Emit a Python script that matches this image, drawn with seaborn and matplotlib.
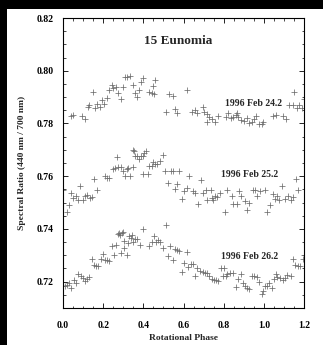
import matplotlib
matplotlib.use("Agg")
import matplotlib.pyplot as plt
from matplotlib.patches import Rectangle
from matplotlib.ticker import MultipleLocator, FormatStrFormatter
import seaborn as sns
import pandas as pd

# ---- data ----
phase_feb24 = [0.038, 0.052, 0.093, 0.110, 0.126, 0.131, 0.151, 0.159, 0.171, 0.184,
               0.193, 0.204, 0.218, 0.231, 0.242, 0.250, 0.264, 0.275, 0.287, 0.297,
               0.309, 0.320, 0.334, 0.347, 0.359, 0.367, 0.380, 0.387, 0.400, 0.430,
               0.442, 0.447, 0.453, 0.458, 0.513, 0.529, 0.546, 0.558, 0.569, 0.619,
               0.641, 0.657, 0.666, 0.696, 0.702, 0.716, 0.719, 0.728, 0.740, 0.757,
               0.773, 0.812, 0.823, 0.835, 0.848, 0.861, 0.868, 0.873, 0.885, 0.901,
               0.915, 0.928, 0.940, 0.951, 0.961, 0.977, 0.989, 0.997, 1.046, 1.061,
               1.095, 1.110, 1.127, 1.144, 1.150, 1.164, 1.177, 1.189, 1.200]
ratio_feb24 = [0.7827, 0.7831, 0.7829, 0.7816, 0.7862, 0.7870, 0.7921, 0.7858, 0.7874, 0.7864,
               0.7889, 0.7874, 0.7896, 0.7927, 0.7946, 0.7934, 0.7940, 0.7915, 0.7892, 0.7937,
               0.7975, 0.7978, 0.7980, 0.7946, 0.7917, 0.7902, 0.7927, 0.7959, 0.7972, 0.7921,
               0.7917, 0.7942, 0.7912, 0.7965, 0.7844, 0.7911, 0.7905, 0.7855, 0.7840, 0.7927,
               0.7844, 0.7852, 0.7838, 0.7862, 0.7845, 0.7836, 0.7807, 0.7824, 0.7816, 0.7807,
               0.7829, 0.7826, 0.7841, 0.7820, 0.7825, 0.7833, 0.7839, 0.7826, 0.7814, 0.7811,
               0.7820, 0.7803, 0.7807, 0.7816, 0.7830, 0.7798, 0.7798, 0.7807, 0.7827, 0.7833,
               0.7829, 0.7817, 0.7870, 0.7870, 0.7921, 0.7858, 0.7870, 0.7858, 0.7892]

phase_feb25 = [0.000, 0.018, 0.031, 0.040, 0.051, 0.065, 0.076, 0.085, 0.098, 0.110,
               0.121, 0.134, 0.143, 0.156, 0.168, 0.209, 0.221, 0.231, 0.247, 0.259,
               0.267, 0.275, 0.287, 0.297, 0.309, 0.317, 0.325, 0.334, 0.347, 0.347,
               0.355, 0.359, 0.370, 0.380, 0.387, 0.397, 0.397, 0.403, 0.413, 0.425,
               0.430, 0.442, 0.450, 0.458, 0.470, 0.483, 0.496, 0.508, 0.521, 0.536,
               0.546, 0.558, 0.569, 0.579, 0.591, 0.602, 0.616, 0.629, 0.646, 0.657,
               0.674, 0.687, 0.699, 0.711, 0.719, 0.735, 0.740, 0.748, 0.757, 0.768,
               0.782, 0.807, 0.818, 0.840, 0.848, 0.865, 0.878, 0.885, 0.906, 0.915,
               0.928, 0.945, 0.956, 0.965, 0.981, 1.006, 1.017, 1.031, 1.044, 1.056,
               1.067, 1.077, 1.089, 1.105, 1.122, 1.134, 1.147, 1.160, 1.172]
ratio_feb25 = [0.7546, 0.7466, 0.7492, 0.7536, 0.7517, 0.7526, 0.7511, 0.7564, 0.7511, 0.7526,
               0.7530, 0.7517, 0.7521, 0.7589, 0.7546, 0.7599, 0.7595, 0.7593, 0.7628, 0.7631,
               0.7671, 0.7634, 0.7634, 0.7618, 0.7599, 0.7627, 0.7631, 0.7599, 0.7634, 0.7700,
               0.7696, 0.7677, 0.7677, 0.7665, 0.7677, 0.7677, 0.7609, 0.7687, 0.7694, 0.7609,
               0.7639, 0.7639, 0.7652, 0.7647, 0.7647, 0.7659, 0.7681, 0.7618, 0.7576, 0.7620,
               0.7618, 0.7552, 0.7571, 0.7618, 0.7513, 0.7542, 0.7555, 0.7599, 0.7542, 0.7536,
               0.7494, 0.7586, 0.7536, 0.7548, 0.7511, 0.7546, 0.7517, 0.7511, 0.7523, 0.7521,
               0.7536, 0.7466, 0.7548, 0.7523, 0.7495, 0.7495, 0.7542, 0.7526, 0.7504, 0.7473,
               0.7500, 0.7548, 0.7548, 0.7526, 0.7542, 0.7548, 0.7466, 0.7492, 0.7533, 0.7513,
               0.7526, 0.7511, 0.7561, 0.7513, 0.7526, 0.7511, 0.7521, 0.7589, 0.7546]

phase_feb26 = [0.000, 0.010, 0.018, 0.031, 0.038, 0.054, 0.065, 0.076, 0.088, 0.098,
               0.110, 0.121, 0.131, 0.143, 0.154, 0.164, 0.176, 0.188, 0.198, 0.209,
               0.221, 0.231, 0.242, 0.254, 0.264, 0.272, 0.280, 0.285, 0.290, 0.292,
               0.300, 0.303, 0.303, 0.317, 0.325, 0.330, 0.337, 0.342, 0.347, 0.359,
               0.370, 0.383, 0.397, 0.430, 0.442, 0.453, 0.463, 0.475, 0.483, 0.496,
               0.513, 0.524, 0.533, 0.549, 0.558, 0.569, 0.579, 0.591, 0.602, 0.616,
               0.624, 0.636, 0.646, 0.657, 0.669, 0.682, 0.696, 0.707, 0.719, 0.728,
               0.740, 0.752, 0.762, 0.773, 0.785, 0.795, 0.802, 0.812, 0.818, 0.832,
               0.845, 0.861, 0.873, 0.885, 0.895, 0.906, 0.918, 0.928, 0.940, 0.951,
               0.965, 0.977, 0.989, 0.997, 1.006, 1.014, 1.027, 1.039, 1.051, 1.061,
               1.067, 1.081, 1.094, 1.105, 1.117, 1.134, 1.144, 1.155, 1.169, 1.180,
               1.194, 1.200]
ratio_feb26 = [0.7182, 0.7185, 0.7189, 0.7196, 0.7176, 0.7208, 0.7196, 0.7229, 0.7221, 0.7215,
               0.7201, 0.7210, 0.7219, 0.7286, 0.7264, 0.7258, 0.7258, 0.7286, 0.7306, 0.7283,
               0.7281, 0.7280, 0.7334, 0.7302, 0.7340, 0.7382, 0.7384, 0.7378, 0.7309, 0.7384,
               0.7390, 0.7353, 0.7328, 0.7301, 0.7347, 0.7375, 0.7366, 0.7378, 0.7350, 0.7363,
               0.7363, 0.7338, 0.7400, 0.7334, 0.7350, 0.7374, 0.7350, 0.7359, 0.7350, 0.7329,
               0.7413, 0.7298, 0.7336, 0.7283, 0.7324, 0.7321, 0.7317, 0.7235, 0.7271, 0.7312,
               0.7254, 0.7268, 0.7268, 0.7223, 0.7252, 0.7239, 0.7235, 0.7233, 0.7233, 0.7223,
               0.7210, 0.7205, 0.7208, 0.7201, 0.7252, 0.7223, 0.7252, 0.7223, 0.7230, 0.7233,
               0.7233, 0.7180, 0.7210, 0.7229, 0.7195, 0.7182, 0.7176, 0.7172, 0.7220, 0.7220,
               0.7218, 0.7199, 0.7154, 0.7163, 0.7182, 0.7182, 0.7195, 0.7176, 0.7210, 0.7230,
               0.7218, 0.7214, 0.7205, 0.7214, 0.7227, 0.7220, 0.7286, 0.7264, 0.7258, 0.7258,
               0.7286, 0.7302]

date_labels = ["1996 Feb 24.2", "1996 Feb 25.2", "1996 Feb 26.2"]
title_text = "15 Eunomia"
x_label = "Rotational Phase"
y_label = "Spectral Ratio (440 nm / 700 nm)"

frames = []
for name, ph, r in zip(date_labels, [phase_feb24, phase_feb25, phase_feb26],
                       [ratio_feb24, ratio_feb25, ratio_feb26]):
    frames.append(pd.DataFrame({"phase": ph, "ratio": r, "night": name}))
df = pd.concat(frames, ignore_index=True)

# ---- style ----
sns.set_style("ticks")
plt.rcParams["font.family"] = ["Liberation Serif", "DejaVu Serif"]
plt.rcParams["font.weight"] = "bold"

W, H = 323, 345
fig = plt.figure(figsize=(W / 100, H / 100), dpi=100, facecolor="black")
fig.patches.append(Rectangle((7 / W, 0), 1 - 7 / W, 1 - 9 / H, transform=fig.transFigure,
                             facecolor="white", edgecolor="none", zorder=-10))
ax = fig.add_axes([63 / W, 1 - 308 / H, (304 - 63) / W, (308 - 18) / H])
ax.set_facecolor("white")

for name in date_labels:
    sub = df[df["night"] == name]
    sns.scatterplot(data=sub, x="phase", y="ratio", marker="+", color="#6e6e6e",
                    s=14, linewidth=0.55, ax=ax, legend=False)

ax.set_xlim(0.0, 1.2)
ax.set_ylim(0.71, 0.82)
ax.xaxis.set_major_locator(MultipleLocator(0.2))
ax.xaxis.set_minor_locator(MultipleLocator(0.05))
ax.yaxis.set_major_locator(MultipleLocator(0.02))
ax.yaxis.set_minor_locator(MultipleLocator(0.005))
ax.xaxis.set_major_formatter(FormatStrFormatter("%.1f"))
ax.yaxis.set_major_formatter(FormatStrFormatter("%.2f"))

ax.tick_params(which="both", direction="in", top=True, right=True, colors="black")
ax.tick_params(which="major", length=3.5, width=0.6, labelsize=7)
ax.tick_params(which="minor", length=1.8, width=0.5)
ax.tick_params(axis="x", which="major", pad=9)
ax.tick_params(axis="y", which="major", pad=7)
for lab in ax.get_xticklabels() + ax.get_yticklabels():
    lab.set_fontweight("bold")
for sp in ax.spines.values():
    sp.set_visible(True)
    sp.set_color("black")
    sp.set_linewidth(0.8)

ax.set_xlabel(x_label, fontsize=6.8, fontweight="bold")
ax.set_ylabel(y_label, fontsize=6.8, fontweight="bold")
ax.xaxis.set_label_coords(0.5, -0.088)
ax.yaxis.set_label_coords(-0.155, 0.5)

ax.text(0.573, 0.8114, title_text, ha="center", va="center", fontsize=9.5, fontweight="bold")
label_pos = [(0.95, 0.7875), (0.93, 0.7605), (0.93, 0.7295)]
for (lx, ly), t in zip(label_pos, date_labels):
    ax.text(lx, ly, t, ha="center", va="center", fontsize=7, fontweight="bold")

fig.savefig("out.png", dpi=100, facecolor=fig.get_facecolor())
